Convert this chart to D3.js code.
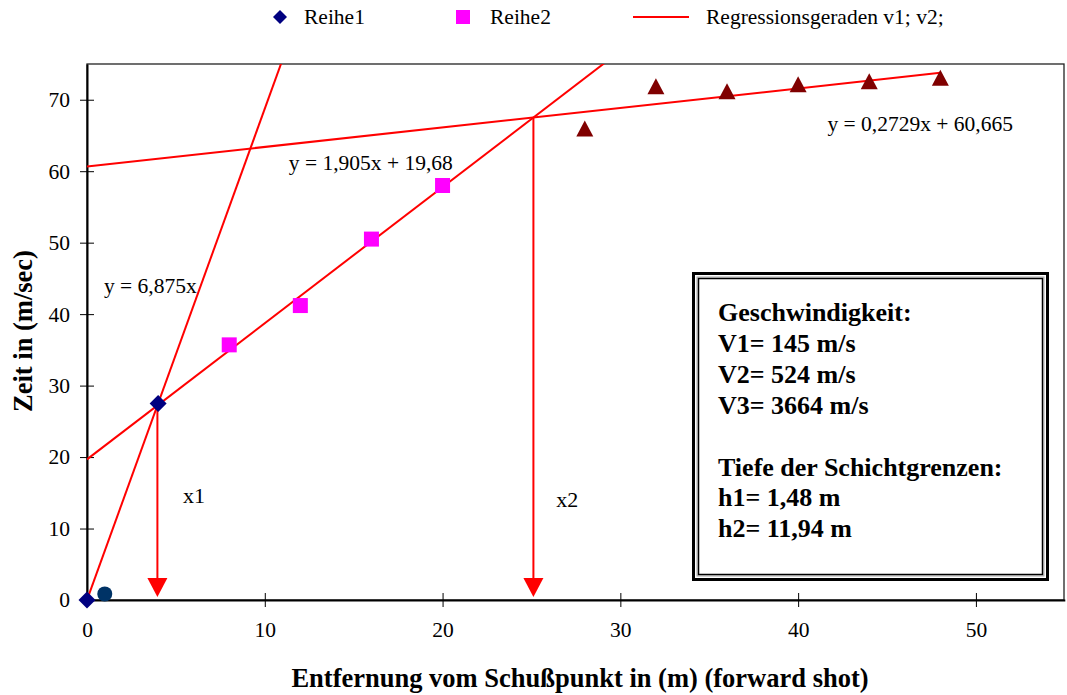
<!DOCTYPE html>
<html><head><meta charset="utf-8">
<script src="https://cdn.jsdelivr.net/npm/d3@7/dist/d3.min.js"></script>
<style>body{margin:0;background:#fff}svg{display:block}text{font-family:"Liberation Serif","Times New Roman",serif}</style>
</head><body><svg id="c" width="1067" height="695"></svg>
<script>
const reihe1X = [0, 4];
const reihe1Y = [0, 27.5];
const pointX = [1];
const pointY = [0.85];
const reihe2X = [8, 12, 16, 20];
const reihe2Y = [35.7, 41.2, 50.5, 58.0];
const reihe3X = [28, 32, 36, 40, 44, 48];
const reihe3Y = [65.9, 71.8, 71.1, 72.1, 72.5, 73.0];
const slopes = [6.875, 1.905, 0.2729];
const intercepts = [0, 19.68, 60.665];
const lineEnds = [[0, 12], [0, 30], [0, 48]];
const eqLabels = ["y = 6,875x", "y = 1,905x + 19,68", "y = 0,2729x + 60,665"];
const eqPos = [[0.95, 42.9], [11.35, 60.2], [41.65, 65.6]];
const arrowX = [3.96, 25.11];
const arrowLabels = ["x1", "x2"];
const arrowLabelPos = [[5.4, 13.6], [26.4, 13.0]];
const xTicks = [0, 10, 20, 30, 40, 50];
const yTicks = [0, 10, 20, 30, 40, 50, 60, 70];
const boxLines = ["Geschwindigkeit:", "V1= 145 m/s", "V2= 524 m/s", "V3= 3664 m/s", "", "Tiefe der Schichtgrenzen:", "h1= 1,48 m", "h2= 11,94 m"];
const legendNames = ["Reihe1", "Reihe2", "Regressionsgeraden v1; v2;"];

const svg = d3.select("#c");
const L = 87, R = 1064, T = 64, B = 600;
const x = d3.scaleLinear().domain([0, 55]).range([L, R + 0.8]);
const y = d3.scaleLinear().domain([0, 75]).range([B, T]);

// plot frame
svg.append("rect").attr("x", L).attr("y", T).attr("width", R - L).attr("height", B - T)
  .attr("fill", "none").attr("stroke", "#222").attr("stroke-width", 1.3);

svg.append("clipPath").attr("id", "clip").append("rect")
  .attr("x", L).attr("y", T).attr("width", R - L).attr("height", B - T);

// axes
const xAxis = svg.append("g").attr("transform", `translate(0,${B})`)
  .call(d3.axisBottom(x).tickValues(xTicks).tickSize(0).tickPadding(22));
xAxis.select(".domain").attr("stroke", "#000").attr("stroke-width", 2);
xAxis.selectAll(".tick line").attr("y1", -7).attr("y2", 7).attr("stroke", "#000").attr("stroke-width", 1);
xAxis.selectAll("text").attr("font-size", 21.5).attr("fill", "#000")
  .attr("font-family", "Liberation Serif");

const yAxis = svg.append("g").attr("transform", `translate(${L},0)`)
  .call(d3.axisLeft(y).tickValues(yTicks).tickSize(0).tickPadding(17));
yAxis.select(".domain").attr("stroke", "#000").attr("stroke-width", 2);
yAxis.selectAll(".tick line").attr("x1", -7).attr("x2", 7).attr("stroke", "#000").attr("stroke-width", 1);
yAxis.selectAll("text").attr("font-size", 21.5).attr("fill", "#000")
  .attr("font-family", "Liberation Serif");

// regression lines
const g = svg.append("g").attr("clip-path", "url(#clip)");
slopes.forEach((m, i) => {
  const [a, b] = lineEnds[i];
  g.append("line")
    .attr("x1", x(a)).attr("y1", y(m * a + intercepts[i]))
    .attr("x2", x(b)).attr("y2", y(m * b + intercepts[i]))
    .attr("stroke", "#ff0000").attr("stroke-width", 2);
});

// arrows
const arrowTop = [slopes[0] * arrowX[0], slopes[1] * arrowX[1] + intercepts[1]];
arrowX.forEach((ax, i) => {
  const px = x(ax);
  svg.append("line").attr("x1", px).attr("x2", px)
    .attr("y1", y(arrowTop[i])).attr("y2", y(0) - 20)
    .attr("stroke", "#ff0000").attr("stroke-width", 2);
  svg.append("path")
    .attr("d", `M${px - 10},${y(0) - 22}L${px + 10},${y(0) - 22}L${px},${y(0) - 3}Z`)
    .attr("fill", "#ff0000");
  svg.append("text").attr("x", x(arrowLabelPos[i][0])).attr("y", y(arrowLabelPos[i][1]))
    .attr("font-size", 22).text(arrowLabels[i]);
});

// equation labels
eqLabels.forEach((t, i) => {
  svg.append("text").attr("x", x(eqPos[i][0])).attr("y", y(eqPos[i][1]))
    .attr("font-size", 21.5).attr("fill", "#000").text(t);
});

// markers
function diamondPath(s) { return `M0,${-s}L${s},0L0,${s}L${-s},0Z`; }
reihe2X.forEach((v, i) => {
  svg.append("rect").attr("x", x(v) - 7.5).attr("y", y(reihe2Y[i]) - 7.5)
    .attr("width", 15).attr("height", 15).attr("fill", "#ff00ff");
});
reihe3X.forEach((v, i) => {
  svg.append("path").attr("transform", `translate(${x(v)},${y(reihe3Y[i])})`)
    .attr("d", "M0,-8.5L8.5,7.5L-8.5,7.5Z").attr("fill", "#800000");
});
pointX.forEach((v, i) => {
  svg.append("circle").attr("cx", x(v)).attr("cy", y(pointY[i])).attr("r", 7.5).attr("fill", "#003366");
});
reihe1X.forEach((v, i) => {
  svg.append("path").attr("transform", `translate(${x(v)},${y(reihe1Y[i])})`)
    .attr("d", diamondPath(8.5)).attr("fill", "#000080");
});

// info box
const bx = 692, by = 272, bw = 357, bh = 309;
svg.append("rect").attr("x", bx + 1.5).attr("y", by + 1.5).attr("width", bw - 3).attr("height", bh - 3)
  .attr("fill", "#fff").attr("stroke", "#000").attr("stroke-width", 3);
svg.append("rect").attr("x", bx + 5).attr("y", by + 5).attr("width", bw - 10).attr("height", bh - 10)
  .attr("fill", "none").attr("stroke", "#aaa").attr("stroke-width", 1);
svg.append("rect").attr("x", bx + 6.5).attr("y", by + 6.5).attr("width", bw - 13).attr("height", bh - 13)
  .attr("fill", "none").attr("stroke", "#000").attr("stroke-width", 1.5);
const bt = svg.append("text").attr("font-size", 26).attr("font-weight", "bold").attr("fill", "#000");
boxLines.forEach((t, i) => {
  bt.append("tspan").attr("x", 718).attr("y", 321 + i * 30.9).text(t === "" ? "\u00a0" : t);
});

// legend
const lg = svg.append("g");
lg.append("path").attr("transform", "translate(280,17)").attr("d", diamondPath(7)).attr("fill", "#000080");
lg.append("text").attr("x", 304).attr("y", 24).attr("font-size", 21.5).text(legendNames[0]);
lg.append("rect").attr("x", 456).attr("y", 10).attr("width", 14).attr("height", 14).attr("fill", "#ff00ff");
lg.append("text").attr("x", 490).attr("y", 24).attr("font-size", 21.5).text(legendNames[1]);
lg.append("line").attr("x1", 633).attr("x2", 689).attr("y1", 17).attr("y2", 17)
  .attr("stroke", "#ff0000").attr("stroke-width", 2);
lg.append("text").attr("x", 706).attr("y", 24).attr("font-size", 21.5).text(legendNames[2]);

// axis titles
svg.append("text").attr("x", 580).attr("y", 687).attr("text-anchor", "middle")
  .attr("font-size", 26.5).attr("font-weight", "bold").text("Entfernung vom Schußpunkt in (m) (forward shot)");
svg.append("text").attr("transform", "translate(32,331) rotate(-90)").attr("text-anchor", "middle")
  .attr("font-size", 26.5).attr("font-weight", "bold").text("Zeit in (m/sec)");
</script></body></html>
